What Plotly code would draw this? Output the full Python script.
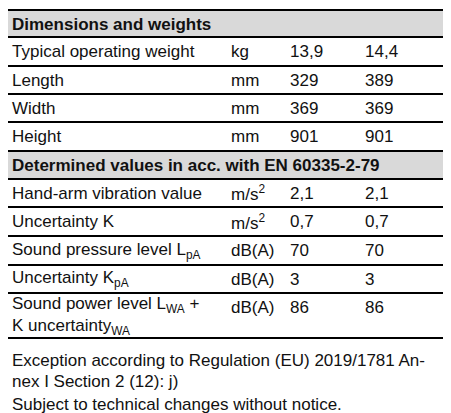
import plotly.graph_objects as go

section1 = "Dimensions and weights"
section2 = "Determined values in acc. with EN 60335-2-79"
labels1 = ["Typical operating weight", "Length", "Width", "Height"]
units1 = ["kg", "mm", "mm", "mm"]
valA1 = ["13,9", "329", "369", "901"]
valB1 = ["14,4", "389", "369", "901"]
labels2 = ["Hand-arm vibration value", "Uncertainty K", "Sound pressure level L<sub>pA</sub>",
           "Uncertainty K<sub>pA</sub>", "Sound power level L<sub>WA</sub> +<br>K uncertainty<sub>WA</sub>"]
units2 = ["m/s<sup>2</sup>", "m/s<sup>2</sup>", "dB(A)", "dB(A)", "dB(A)"]
valA2 = ["2,1", "0,7", "70", "3", "86"]
valB2 = ["2,1", "0,7", "70", "3", "86"]
footnotes = ["Exception according to Regulation (EU) 2019/1781 An-", "nex I Section 2 (12): j)",
             "Subject to technical changes without notice."]

W, H = 451, 413
L, R = 0, 445
font = dict(family="Liberation Sans, Arial", size=17, color="#111")
shapes, ann = [], []

def line(y, w=2):
    shapes.append(dict(type="line", x0=L, x1=R, y0=y, y1=y, line=dict(color="#000", width=w), xref="x", yref="y"))

def header(y0, y1, text):
    shapes.append(dict(type="rect", x0=L, x1=R, y0=y0, y1=y1, fillcolor="#d9d9d9", line=dict(width=0), layer="below"))
    ann.append(dict(x=2, y=(y0+y1)/2, text="<b>"+text+"</b>", showarrow=False, xanchor="left", yanchor="middle", font=font))

def rows(bounds, labels, units, a, b):
    for i in range(len(labels)):
        y0, y1 = bounds[i], bounds[i+1]
        yc = (y0+y1)/2
        ann.append(dict(x=2, y=yc, text=labels[i], showarrow=False, xanchor="left", yanchor="middle", font=font, align="left"))
        yv = yc if "<br>" not in labels[i] else y0+14
        ann.append(dict(x=221, y=yv, text=units[i], showarrow=False, xanchor="left", yanchor="middle", font=font))
        ann.append(dict(x=280, y=yv, text=a[i], showarrow=False, xanchor="left", yanchor="middle", font=font))
        ann.append(dict(x=355, y=yv, text=b[i], showarrow=False, xanchor="left", yanchor="middle", font=font))
        line(y1)

line(2)
header(3, 29, section1)
line(29)
rows([29, 58, 86, 114, 143], labels1, units1, valA1, valB1)
header(143, 171, section2)
line(171)
rows([171, 199, 228, 257, 285, 330], labels2, units2, valA2, valB2)
for i, t in enumerate(footnotes):
    ann.append(dict(x=2, y=[352, 373, 396][i], text=t, showarrow=False, xanchor="left", yanchor="middle", font=font))

fig = go.Figure()
fig.update_layout(width=W, height=H, margin=dict(l=0, r=0, t=0, b=0), paper_bgcolor="white", plot_bgcolor="white",
                  xaxis=dict(range=[0, W], visible=False, fixedrange=True),
                  yaxis=dict(range=[H, 0], visible=False, fixedrange=True),
                  shapes=shapes, annotations=ann, showlegend=False)
fig.write_html("out.html")
